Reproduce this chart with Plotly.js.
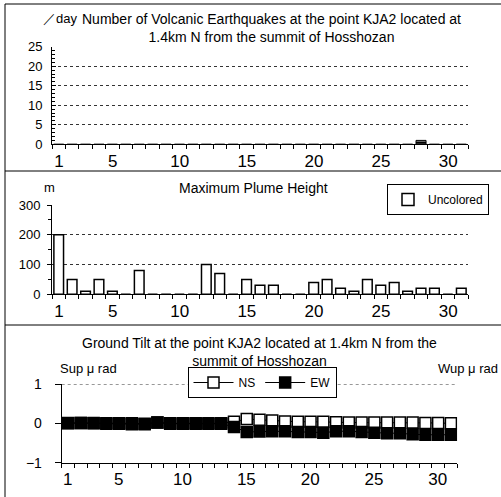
<!DOCTYPE html>
<html>
<head>
<meta charset="utf-8">
<script src="https://cdn.plot.ly/plotly-3.0.1.min.js"></script>
<style>html,body{margin:0;padding:0;background:#fff;}#chart{width:501px;height:497px;}</style>
</head>
<body>
<div id="chart"></div>
<script>
// ---- data ----
const days = Array.from({length: 31}, (_, i) => i + 1);
const quakeCounts = [0,0,0,0,0,0,0,0,0,0,0,0,0,0,0,0,0,0,0,0,0,0,0,0,0,0,0,1,0,0,0];
const plumeHeights = [200,50,10,50,10,0,80,0,0,0,0,100,70,0,50,30,30,0,0,40,50,20,10,50,30,40,10,20,20,0,20];
const tiltNS = [0.01,0.01,0.01,0,0,0,-0.01,0.02,0,0,0,0,0,0.04,0.11,0.09,0.07,0.05,0.04,0.04,0.04,0.03,0.02,0.02,0.02,0.02,0.02,0.02,0.01,0.01,0.0];
const tiltEW = [0,0.01,0,-0.01,-0.01,-0.02,-0.02,0.02,-0.01,-0.01,-0.01,-0.01,-0.01,-0.09,-0.22,-0.21,-0.2,-0.2,-0.22,-0.22,-0.24,-0.2,-0.2,-0.22,-0.24,-0.25,-0.25,-0.28,-0.29,-0.29,-0.29];
const xTickVals = [1,5,10,15,20,25,30];

const W = 501, H = 497;
const px = v => v / W;
const py = v => 1 - v / H;
const FONT = 'Liberation Sans, Arial, sans-serif';

// category boundaries (tick marks) with labels attached to the boundary left of each labelled day
const boundaries = Array.from({length: 32}, (_, i) => i + 0.5);
const boundaryText = boundaries.map(b => xTickVals.includes(b + 0.5) ? String(b + 0.5) : '');

const traces = [
  {type:'bar', x:days, y:quakeCounts, xaxis:'x', yaxis:'y', width:0.75, showlegend:false,
   marker:{color:'#000', line:{color:'#000', width:1}, pattern:{shape:'-', fgcolor:'#fff', bgcolor:'#000', size:4, solidity:0.3}}},
  {type:'bar', x:days, y:plumeHeights, xaxis:'x2', yaxis:'y2', width:0.72, name:'Uncolored', legend:'legend',
   marker:{color:'#fff', line:{color:'#000', width:1.5}}},
  {type:'scatter', mode:'lines+markers', x:days, y:tiltNS, xaxis:'x3', yaxis:'y3', name:'NS', legend:'legend2',
   line:{color:'#000', width:1}, marker:{symbol:'square', size:11, color:'#fff', line:{color:'#000', width:1.5}}},
  {type:'scatter', mode:'lines+markers', x:days, y:tiltEW, xaxis:'x3', yaxis:'y3', name:'EW', legend:'legend2',
   line:{color:'#000', width:1}, marker:{symbol:'square', size:11, color:'#000', line:{color:'#000', width:1.5}}}
];

function xAx(domain, anchor, shift) {
  return {domain:domain, anchor:anchor, range:[0.5,31.5], tickmode:'array', tickvals:boundaries, ticktext:boundaryText,
    ticks:'outside', ticklen:4, tickcolor:'#000', tickwidth:1, showline:true, linecolor:'#000', linewidth:1,
    showgrid:false, zeroline:false,
    tickfont:{family:FONT, size:17, color:'#000'}, ticklabelstandoff:-3, ticklabelshift:shift};
}

const layout = {
  width:W, height:H, margin:{l:0,r:0,t:0,b:0}, paper_bgcolor:'#fff', plot_bgcolor:'rgba(0,0,0,0)',
  font:{family:FONT, size:12, color:'#000'},
  bargap:0,
  xaxis: xAx([px(52), px(468)], 'y', 7),
  yaxis: {domain:[py(144.3), py(46.7)], anchor:'x', range:[0,25], dtick:5, tick0:0, showline:true, linecolor:'#000',
    ticks:'inside', ticklen:4, tickcolor:'#000', showgrid:true, gridcolor:'#333', griddash:'dot', gridwidth:1, zeroline:false,
    tickfont:{family:FONT, size:13}, ticklabelstandoff:6,
    minor:{dtick:1, ticks:'inside', ticklen:3, tickcolor:'#000', showgrid:false}},
  xaxis2: xAx([px(52), px(468)], 'y2', 7),
  yaxis2: {domain:[py(294.3), py(205)], anchor:'x2', range:[0,300], dtick:100, showline:true, linecolor:'#000',
    ticks:'outside', ticklen:4, tickcolor:'#000', showgrid:true, gridcolor:'#333', griddash:'dot', gridwidth:1, zeroline:false,
    tickfont:{family:FONT, size:13}, ticklabelstandoff:4,
    minor:{dtick:50, ticks:'outside', ticklen:3, tickcolor:'#000', showgrid:false}},
  xaxis3: xAx([px(61.7), px(457.3)], 'y3', 6),
  yaxis3: {domain:[py(462.7), py(384)], anchor:'x3', range:[-1,1], tickvals:[-1,0,1], showline:true, linecolor:'#000',
    ticks:'outside', ticklen:6, tickcolor:'#000', showgrid:false, zeroline:false,
    tickfont:{family:FONT, size:14}, ticklabelstandoff:10},
  yaxis4: {overlaying:'y3', side:'right', anchor:'x3', range:[-1,1], tickvals:[-1,0,1], showline:true, linecolor:'#000',
    ticks:'outside', ticklen:6, tickcolor:'#000', showgrid:false, zeroline:false,
    tickfont:{family:FONT, size:14}, ticklabelstandoff:2},
  legend: {x:px(489), y:py(184), xanchor:'right', yanchor:'top', bordercolor:'#000', borderwidth:1, bgcolor:'#fff',
    font:{family:FONT, size:12}, itemwidth:30, tracegroupgap:0},
  legend2: {orientation:'h', x:px(262), y:py(367), xanchor:'center', yanchor:'top', bordercolor:'#000', borderwidth:1,
    bgcolor:'#fff', font:{family:FONT, size:12}, itemwidth:40},
  shapes: [
    {type:'line', xref:'paper', yref:'paper', x0:px(5), x1:1.02, y0:py(4), y1:py(4), line:{color:'#000', width:1}},
    {type:'line', xref:'paper', yref:'paper', x0:px(5), x1:px(5), y0:py(4), y1:-0.02, line:{color:'#000', width:1}},
    {type:'line', xref:'paper', yref:'paper', x0:px(5), x1:1.02, y0:py(171), y1:py(171), line:{color:'#000', width:1}},
    {type:'line', xref:'paper', yref:'paper', x0:px(5), x1:1.02, y0:py(325), y1:py(325), line:{color:'#000', width:1}},
    {type:'line', xref:'x3 domain', yref:'y3', x0:0, x1:1, y0:1, y1:1, line:{color:'#333', width:1, dash:'dot'}, layer:'below'}
  ],
  annotations: [
    {xref:'paper', yref:'paper', x:px(271), y:py(28), yanchor:'middle', text:'Number of Volcanic Earthquakes at the point KJA2 located at<br>1.4km N from the summit of Hosshozan',
     showarrow:false, font:{family:FONT, size:14}, align:'center'},
    {xref:'paper', yref:'paper', x:px(41), y:py(18), yanchor:'middle', text:'／day', showarrow:false, font:{family:FONT, size:13}},
    {xref:'paper', yref:'paper', x:px(253), y:py(188), yanchor:'middle', text:'Maximum Plume Height', showarrow:false, font:{family:FONT, size:14}},
    {xref:'paper', yref:'paper', x:px(42), y:py(187), yanchor:'middle', text:'m', showarrow:false, font:{family:FONT, size:13}},
    {xref:'paper', yref:'paper', x:px(259), y:py(352), yanchor:'middle', text:'Ground Tilt at the point KJA2 located at 1.4km N from the<br>summit of Hosshozan',
     showarrow:false, font:{family:FONT, size:14}, align:'center'},
    {xref:'paper', yref:'paper', x:px(58), y:py(368), yanchor:'middle', text:'Sup μ rad', showarrow:false, font:{family:FONT, size:13}},
    {xref:'paper', yref:'paper', x:px(500), y:py(368), xanchor:'right', yanchor:'middle', text:'Wup μ rad', showarrow:false, font:{family:FONT, size:13}}
  ]
};

Plotly.newPlot('chart', traces, layout, {displayModeBar:false, staticPlot:true});
</script>
</body>
</html>
